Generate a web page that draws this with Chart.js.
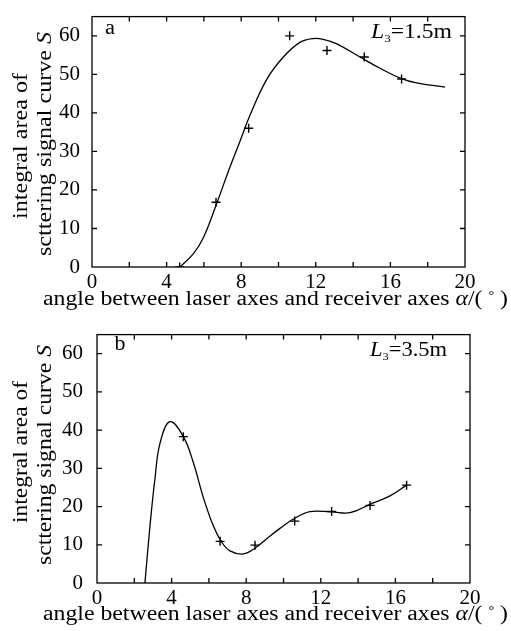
<!DOCTYPE html>
<html><head><meta charset="utf-8">
<script src="https://cdn.jsdelivr.net/npm/chart.js@4"></script>
<style>
html,body{margin:0;padding:0;background:#fff;}
#wrap{position:relative;width:511px;height:631px;overflow:hidden;}
canvas{position:absolute;left:0;}
</style></head><body>
<div id="wrap">
<canvas id="ca" width="511" height="316" style="top:0"></canvas>
<canvas id="cb" width="511" height="315" style="top:316px"></canvas>
</div>
<script>
// ---- data ----
const xTickVals = [0, 2, 4, 6, 8, 10, 12, 14, 16, 18, 20];
const xTickLabels = [0, 4, 8, 12, 16, 20];
const yTickLabels = [0, 10, 20, 30, 40, 50, 60];

// panel a (L3 = 1.5 m)
const aMarkX = [4.7, 6.65, 8.4, 10.6, 12.6, 14.6, 16.6];
const aMarkY = [0, 16.8, 36, 60, 56.2, 54.5, 48.8];
const aCurveX = [4.72, 5.43, 5.97, 6.68, 7.31, 7.94, 8.47, 9.37, 10.26, 11.15, 11.87, 12.4, 13.1, 14.37, 15.44, 16.6, 17.4, 18.93];
const aCurveY = [0, 3.4, 7.6, 16.4, 24.8, 32.7, 39.4, 48.7, 54.5, 58.3, 59.3, 59.1, 58.0, 54.5, 51.6, 48.9, 47.8, 46.7];

// panel b (L3 = 3.5 m)
const bMarkX = [4.63, 6.6, 8.47, 10.6, 12.58, 14.64, 16.6];
const bMarkY = [38.3, 10.9, 9.9, 16.2, 18.7, 20.3, 25.6];
const bCurveX = [2.57, 2.84, 3.11, 3.38, 3.91, 4.63, 5.16, 5.7, 6.24, 6.68, 7.13, 7.85, 8.47, 9.1, 9.81, 10.62, 11.42, 12.58, 13.57, 14.64, 15.71, 16.6];
const bCurveY = [0, 14.9, 27.4, 36.6, 42.2, 38.3, 31.6, 22.4, 14.9, 10.75, 8.4, 7.6, 9.1, 11.6, 14.3, 17.0, 18.7, 18.6, 18.4, 20.6, 22.8, 25.6];

const xTitle = 'angle between laser axes and receiver axes ';
const yTitle1 = 'integral area of';
const yTitle2 = 'scttering signal curve ';

const SERIF = '"Liberation Serif", "Times New Roman", serif';

function pts(xs, ys){ return xs.map((x,i)=>({x:x, y:ys[i]})); }

function drawRuns(ctx, runs, cx, cy, width, align){
  let total = 0;
  runs.forEach(r=>{ ctx.font = r.font; r.w = ctx.measureText(r.t).width; total += r.w; });
  const s = width / total;
  ctx.save();
  ctx.translate(cx, cy);
  ctx.scale(s, 1);
  let x = align === 'left' ? 0 : -total/2;
  ctx.textBaseline = 'middle';
  ctx.textAlign = 'left';
  ctx.fillStyle = '#000';
  runs.forEach(r=>{ ctx.font = r.font; ctx.fillText(r.t, x, r.dy||0); x += r.w; });
  ctx.restore();
}

const framePlugin = {
  id: 'frame',
  afterDraw(chart){
    const o = chart.options.plugins.frame;
    const {ctx, chartArea:a, scales:{x, y}} = chart;
    ctx.save();
    ctx.strokeStyle = '#000';
    ctx.fillStyle = '#000';
    ctx.lineWidth = 1.3;
    ctx.strokeRect(a.left, a.top, a.right - a.left, a.bottom - a.top);
    const L = 5;
    ctx.beginPath();
    x.ticks.forEach(t=>{
      if (t.value <= x.min || t.value >= x.max) return;
      const p = x.getPixelForValue(t.value);
      ctx.moveTo(p, a.bottom); ctx.lineTo(p, a.bottom - L);
      ctx.moveTo(p, a.top); ctx.lineTo(p, a.top + L);
    });
    y.ticks.forEach(t=>{
      if (t.value <= y.min || t.value >= y.max) return;
      const p = y.getPixelForValue(t.value);
      ctx.moveTo(a.left, p); ctx.lineTo(a.left + L, p);
      ctx.moveTo(a.right, p); ctx.lineTo(a.right - L, p);
    });
    ctx.stroke();

    drawRuns(ctx, [
      {t: xTitle, font: '20px ' + SERIF},
      {t: 'α', font: 'italic 20px ' + SERIF},
      {t: '/( ', font: '20px ' + SERIF},
      {t: '°', font: '12px ' + SERIF, dy: -4},
      {t: ' )', font: '20px ' + SERIF}
    ], o.xTitleX, o.xTitleY, o.xTitleW, 'center');

    ctx.save();
    ctx.rotate(-Math.PI/2);
    drawRuns(ctx, [{t: yTitle1, font: '20px ' + SERIF}], -o.y1cy, o.y1cx, o.y1w, 'center');
    drawRuns(ctx, [
      {t: yTitle2, font: '20px ' + SERIF},
      {t: 'S', font: 'italic 20px ' + SERIF}
    ], -o.y2cy, o.y2cx, o.y2w, 'center');
    ctx.restore();

    drawRuns(ctx, [{t: o.letter, font: '20px ' + SERIF}], o.letterX, o.letterY, o.letterW, 'center');
    drawRuns(ctx, [
      {t: 'L', font: 'italic 20px ' + SERIF},
      {t: '3', font: '11px ' + SERIF, dy: 6},
      {t: '=' + o.dist + 'm', font: '20px ' + SERIF}
    ], o.lX, o.lY, o.lW, 'left');
    ctx.restore();
  }
};

function makeChart(id, curve, marks, g){
  return new Chart(document.getElementById(id), {
    type: 'scatter',
    data: {
      datasets: [
        { data: curve, showLine: true, borderColor: '#000', borderWidth: 1.3, pointRadius: 0,
          tension: 0.4, fill: false },
        { data: marks, showLine: false, pointStyle: 'cross', pointRadius: 4.5,
          borderColor: '#000', borderWidth: 1.4, backgroundColor: '#000' }
      ]
    },
    options: {
      responsive: false, animation: false, devicePixelRatio: 1,
      layout: { padding: { left: 0, top: g.top, right: 511 - g.right, bottom: 0 } },
      plugins: { legend: { display: false }, tooltip: { enabled: false }, frame: g.frame },
      scales: {
        x: {
          type: 'linear', min: 0, max: 20,
          grid: { display: false }, border: { display: false },
          afterBuildTicks: s => { s.ticks = xTickVals.map(v => ({ value: v })); },
          ticks: { autoSkip: false, maxRotation: 0, padding: -5, color: '#000',
            font: { family: SERIF, size: 21 },
            callback: v => xTickLabels.includes(v) ? String(v) : '' },
          afterFit: s => { s.height = g.canvasH - g.bottom; }
        },
        y: {
          type: 'linear', min: 0, max: 65,
          grid: { display: false }, border: { display: false },
          afterBuildTicks: s => { s.ticks = yTickLabels.map(v => ({ value: v })); },
          ticks: { autoSkip: false, padding: g.ypad, color: '#000',
            font: { family: SERIF, size: 21 },
            callback: v => String(v) },
          afterFit: s => { s.width = g.left; }
        }
      }
    },
    plugins: [framePlugin]
  });
}

makeChart('ca', pts(aCurveX, aCurveY), pts(aMarkX, aMarkY), {
  canvasH: 316, top: 8, bottom: 267, left: 92, right: 465, ypad: 4,
  frame: { xTitleX: 275.5, xTitleY: 300, xTitleW: 465,
           y1cx: 22, y1cy: 146, y1w: 146, y2cx: 46, y2cy: 144, y2w: 224,
           letter: 'a', letterX: 110, letterY: 29, letterW: 10,
           dist: '1.5', lX: 371, lY: 33, lW: 81 }
});
makeChart('cb', pts(bCurveX, bCurveY), pts(bMarkX, bMarkY), {
  canvasH: 315, top: 7, bottom: 267, left: 97, right: 470, ypad: 6,
  frame: { xTitleX: 275.5, xTitleY: 299, xTitleW: 465,
           y1cx: 22, y1cy: 136, y1w: 142, y2cx: 46, y2cy: 139, y2w: 220,
           letter: 'b', letterX: 120, letterY: 29, letterW: 11,
           dist: '3.5', lX: 370, lY: 35, lW: 77 }
});
</script>
</body></html>
